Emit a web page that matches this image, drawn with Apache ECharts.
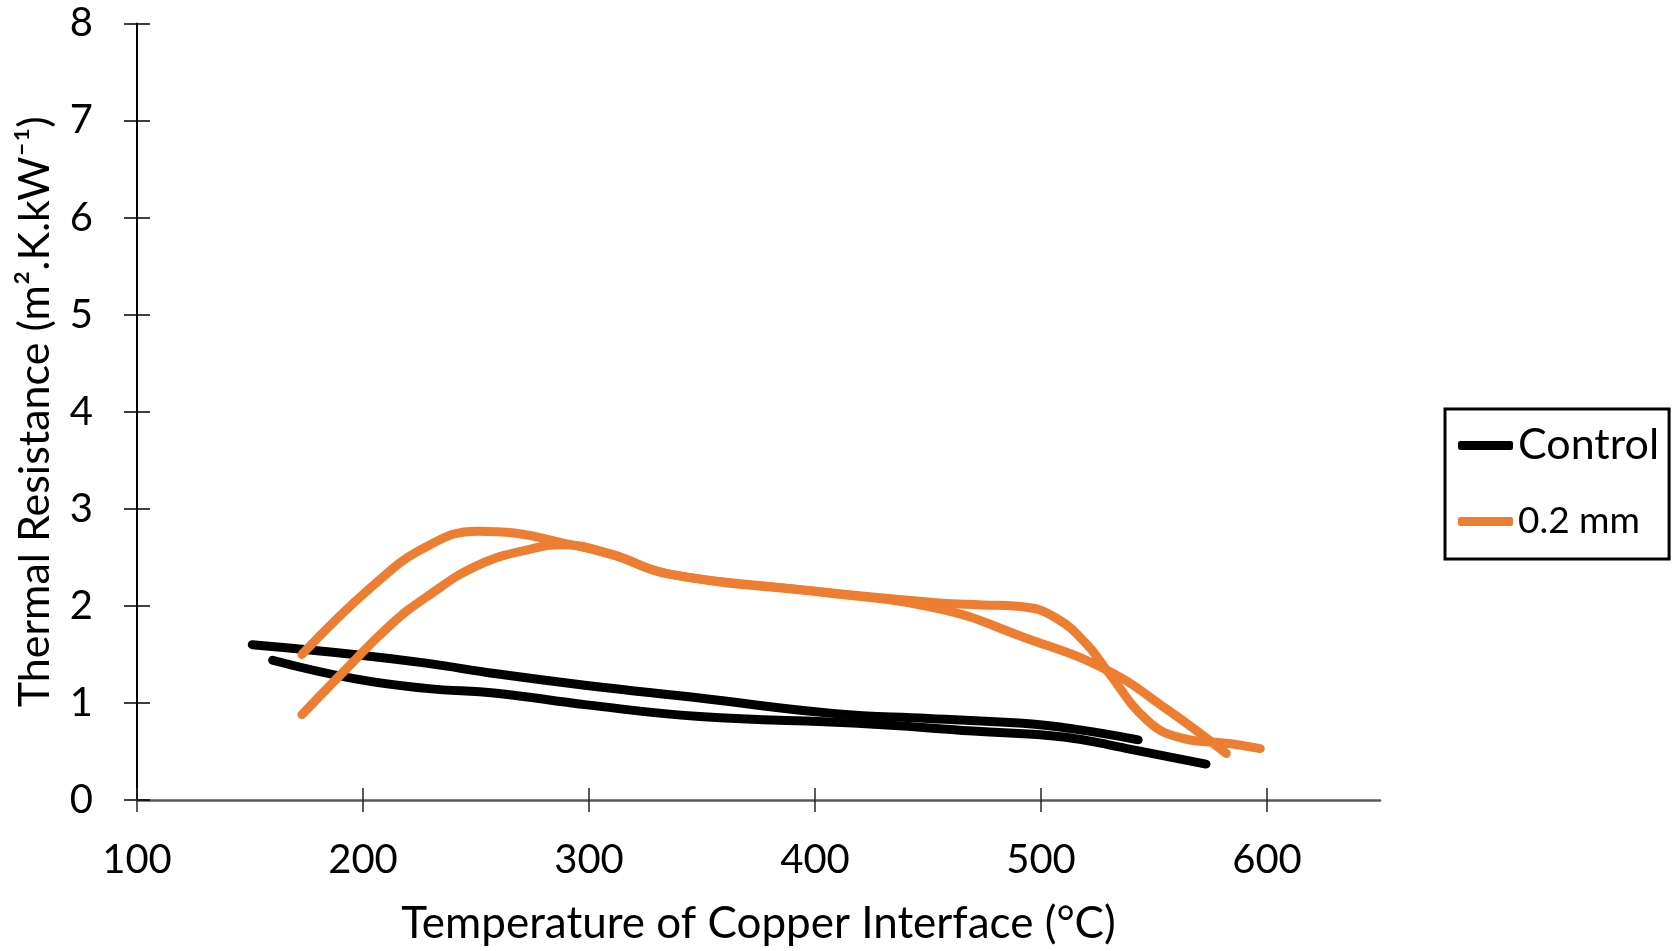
<!DOCTYPE html>
<html>
<head>
<meta charset="utf-8">
<script src="https://cdn.jsdelivr.net/npm/echarts@6/dist/echarts.min.js"></script>
<style>
html,body{margin:0;padding:0;background:#fff;}
#chart{width:1675px;height:951px;}
</style>
</head>
<body>
<div id="chart"></div>
<script>
// Control (two traces: heating / cooling)
const controlUpperT = [151, 196, 228, 259, 299, 349, 409, 450, 492, 515, 543];
const controlUpperR = [1.60, 1.50, 1.41, 1.30, 1.18, 1.05, 0.89, 0.84, 0.79, 0.73, 0.62];
const controlLowerT = [160, 196, 228, 259, 299, 349, 419, 470, 510, 538, 573];
const controlLowerR = [1.44, 1.25, 1.15, 1.10, 0.98, 0.86, 0.79, 0.71, 0.65, 0.53, 0.37];
// 0.2 mm (two traces)
const mmUpperT = [173, 204, 228, 251, 267, 288, 310, 335, 400, 455, 474, 492, 507, 520, 529, 547, 562, 584, 597];
const mmUpperR = [1.50, 2.20, 2.61, 2.77, 2.75, 2.65, 2.53, 2.33, 2.15, 2.03, 2.01, 1.99, 1.87, 1.61, 1.34, 0.82, 0.64, 0.58, 0.53];
const mmLowerT = [173, 193, 212, 228, 251, 275, 288, 310, 335, 400, 455, 492, 529, 556, 582];
const mmLowerR = [0.88, 1.36, 1.80, 2.09, 2.42, 2.59, 2.63, 2.53, 2.33, 2.15, 1.97, 1.68, 1.34, 0.93, 0.48];

const xTicks = [100, 200, 300, 400, 500, 600];
const yTicks = [0, 1, 2, 3, 4, 5, 6, 7, 8];

const seriesNames = ['Control', '0.2 mm'];
const xTitle = 'Temperature of Copper Interface (\u00B0C)';
const yTitle = 'Thermal Resistance (m\u00B2.K.kW\u207B\u00B9)';

function pairs(xs, ys) { return xs.map((x, i) => [x, ys[i]]); }

const FONT = 'Lato';
const BLACK = '#000000';
const ORANGE = '#ED7D31';

function lineSeries(name, color, data) {
  return {
    name: name, type: 'line', data: data,
    xAxisIndex: 0, yAxisIndex: 0,
    showSymbol: false, symbol: 'none',
    smooth: 0.45,
    lineStyle: { color: color, width: 9, cap: 'round', join: 'round' },
    itemStyle: { color: color },
    emphasis: { disabled: true }, animation: false
  };
}

const chart = echarts.init(document.getElementById('chart'), null, { renderer: 'canvas' });
chart.setOption({
  animation: false,
  backgroundColor: '#ffffff',
  textStyle: { fontFamily: FONT },
  grid: { left: 137, right: 295, top: 23.5, bottom: 151, containLabel: false },
  legend: {
    orient: 'vertical', left: 1445, top: 409,
    padding: [15, 10, 19, 13],
    itemGap: 36, itemWidth: 55, itemHeight: 9,
    icon: 'roundRect',
    borderColor: BLACK, borderWidth: 3,
    data: [
      { name: seriesNames[0], textStyle: { fontSize: 43, color: BLACK, fontFamily: FONT } },
      { name: seriesNames[1], textStyle: { fontSize: 37, color: BLACK, fontFamily: FONT } }
    ]
  },
  xAxis: [
    {
      type: 'value', min: 100, max: 650, interval: 100,
      name: xTitle, nameLocation: 'middle', nameGap: 102,
      nameTextStyle: { fontSize: 44, color: BLACK, fontFamily: FONT },
      axisLine: { show: true, lineStyle: { color: '#595959', width: 2.5 } },
      axisTick: { show: true, inside: false, length: 12, lineStyle: { color: '#262626', width: 1.5 }, customValues: xTicks },
      axisLabel: { fontSize: 40, color: BLACK, margin: 40, fontFamily: FONT, customValues: xTicks },
      splitLine: { show: false }
    },
    {
      type: 'value', min: 100, max: 650, interval: 100, position: 'bottom',
      axisLine: { show: false },
      axisTick: { show: true, inside: true, length: 12, lineStyle: { color: '#262626', width: 1.5 }, customValues: xTicks },
      axisLabel: { show: false },
      splitLine: { show: false }
    }
  ],
  yAxis: [
    {
      type: 'value', min: 0, max: 8, interval: 1,
      name: yTitle, nameLocation: 'middle', nameGap: 80,
      nameTextStyle: { fontSize: 43, color: BLACK, fontFamily: FONT },
      axisLine: { show: true, lineStyle: { color: BLACK, width: 2 } },
      axisTick: { show: true, inside: false, length: 13, lineStyle: { color: BLACK, width: 1.5 }, customValues: yTicks },
      axisLabel: { fontSize: 40, color: BLACK, margin: 44, fontFamily: FONT, customValues: yTicks },
      splitLine: { show: false }
    },
    {
      type: 'value', min: 0, max: 8, interval: 1, position: 'left',
      axisLine: { show: false },
      axisTick: { show: true, inside: true, length: 13, lineStyle: { color: BLACK, width: 1.5 }, customValues: yTicks },
      axisLabel: { show: false },
      splitLine: { show: false }
    }
  ],
  series: [
    lineSeries(seriesNames[0], BLACK, pairs(controlUpperT, controlUpperR)),
    lineSeries(seriesNames[0], BLACK, pairs(controlLowerT, controlLowerR)),
    lineSeries(seriesNames[1], ORANGE, pairs(mmUpperT, mmUpperR)),
    lineSeries(seriesNames[1], ORANGE, pairs(mmLowerT, mmLowerR))
  ]
});
</script>
</body>
</html>
